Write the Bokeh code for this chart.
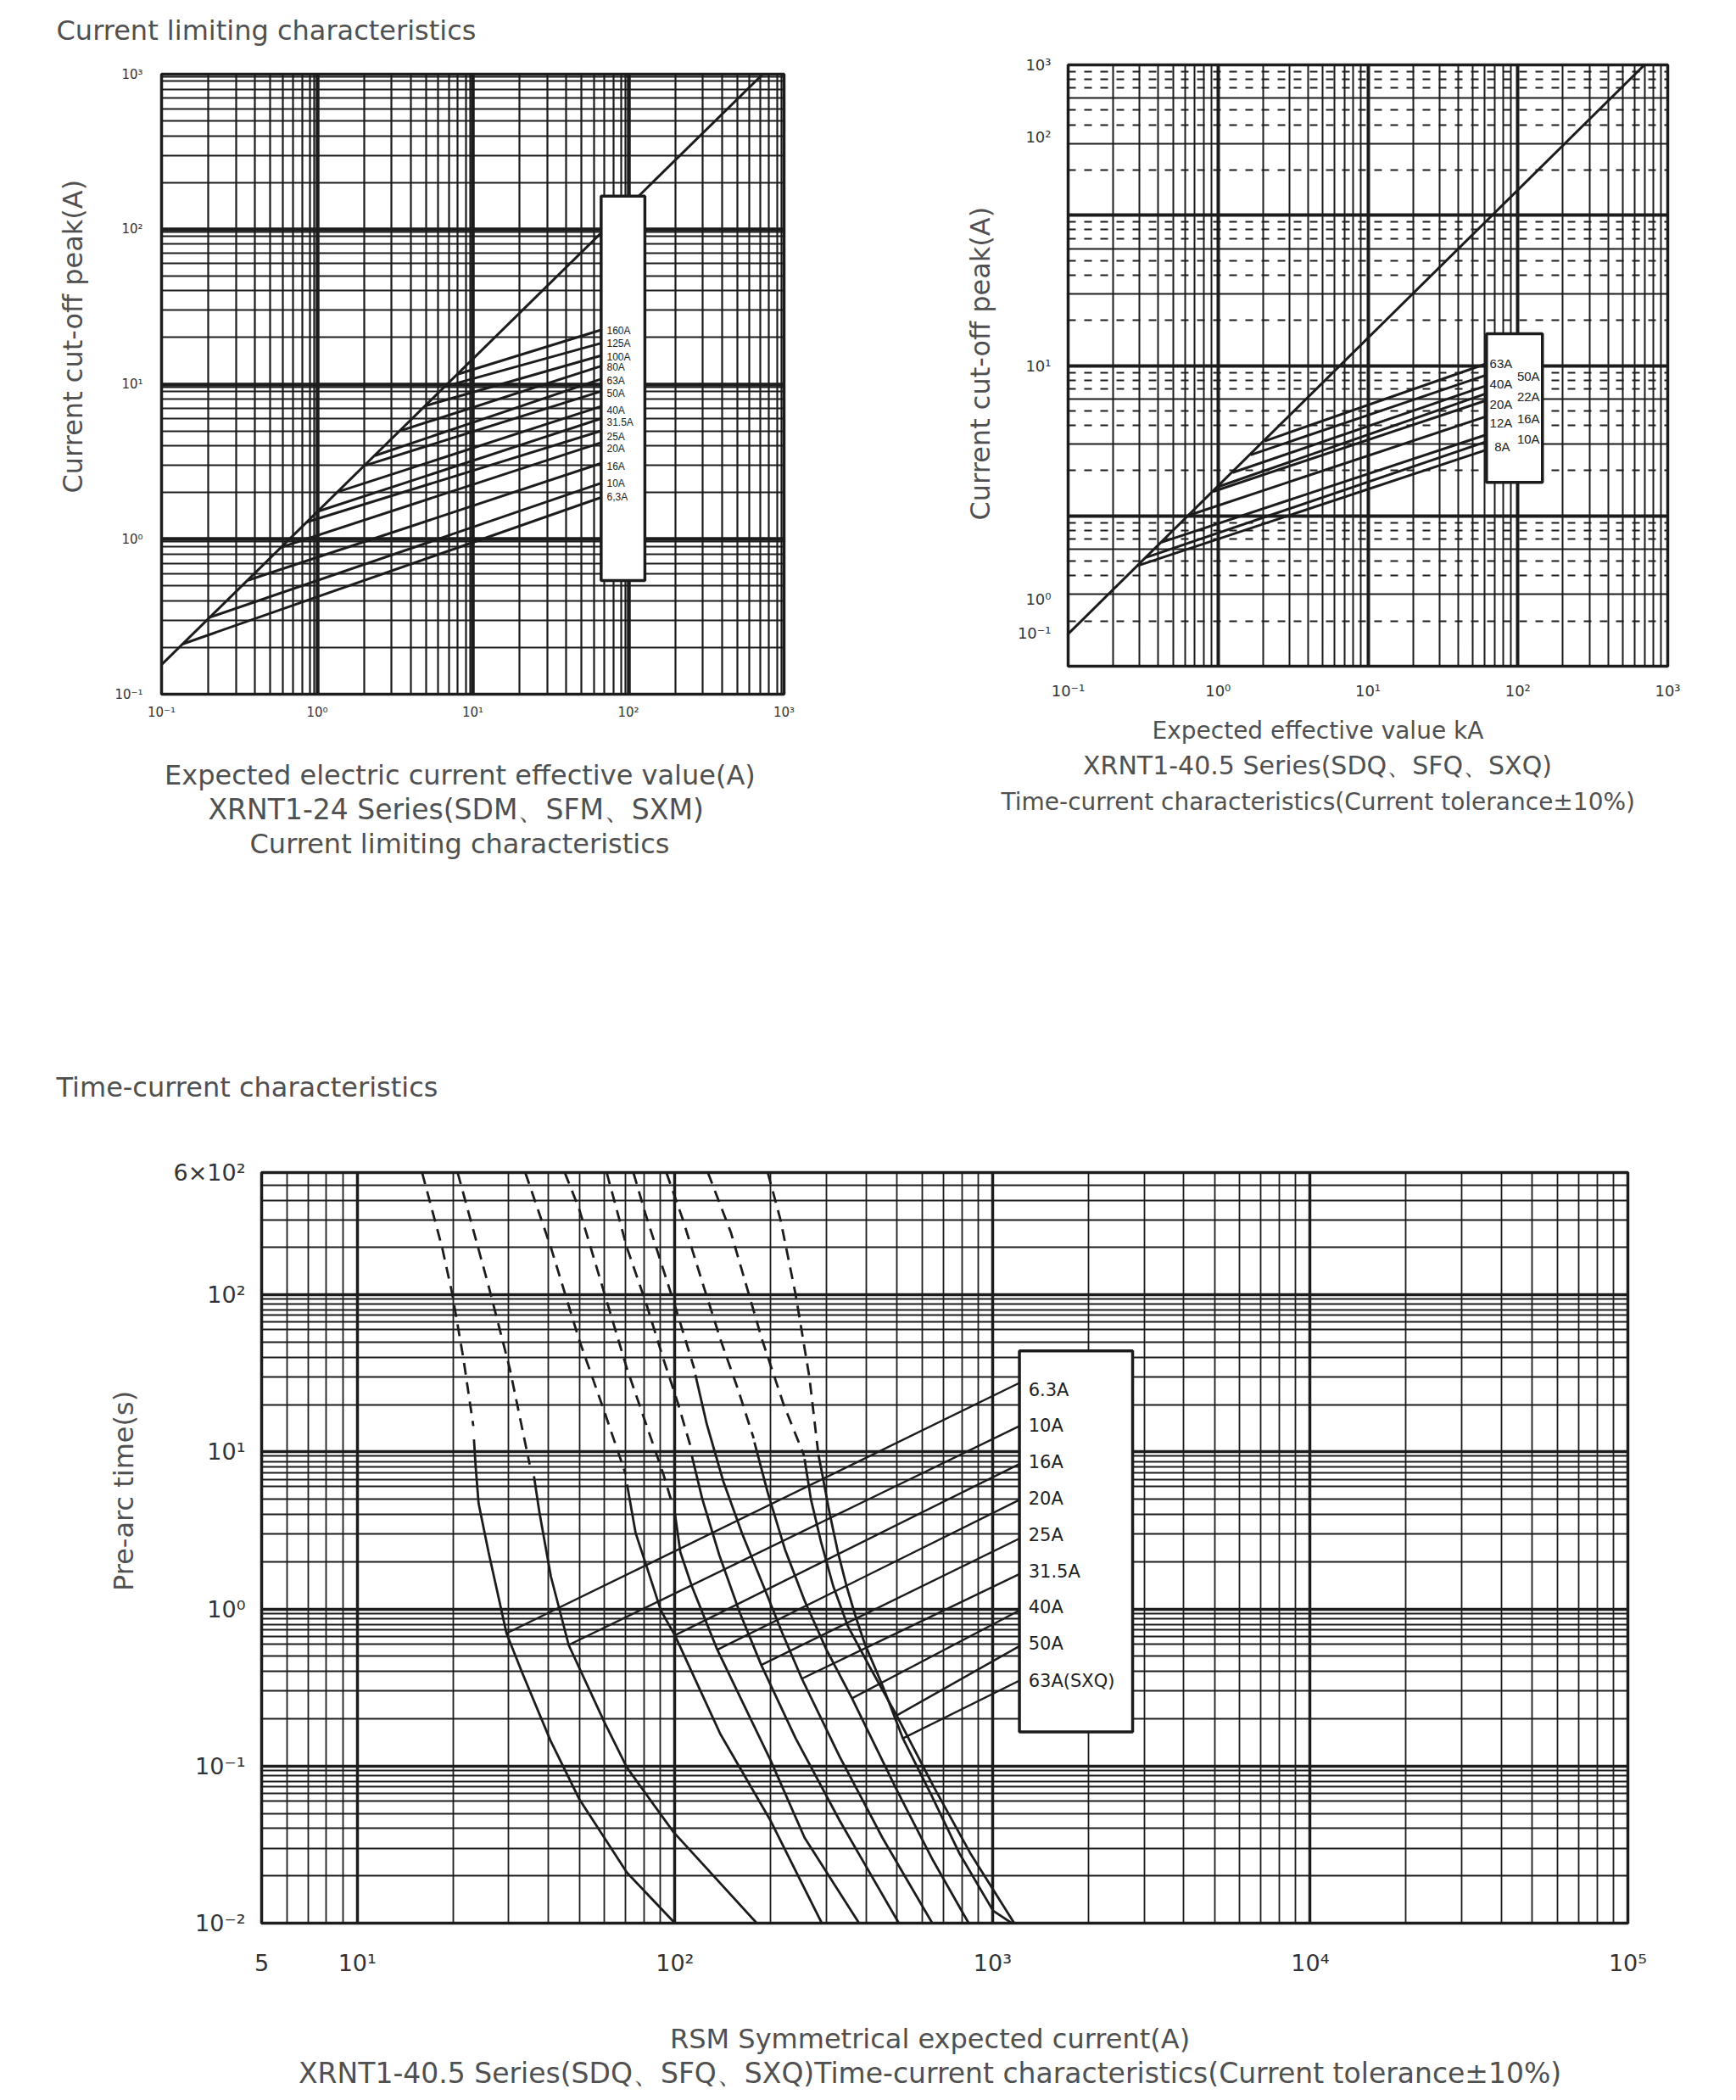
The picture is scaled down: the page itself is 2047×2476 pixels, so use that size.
from bokeh.plotting import figure
from bokeh.models import Range1d, FixedTicker, Grid, Title
from bokeh.layouts import column, row
from bokeh.embed import file_html
from bokeh.resources import INLINE
from bokeh.core.properties import value

INK = "#1c1c1c"
TXT = "#505050"
SANS = "DejaVu Sans"
SMALL = "Liberation Sans"

# ---------------- Chart 1: XRNT1-24 current limiting ----------------
c1_ticks = [0.1, 1, 10, 100, 1000]
c1_tick_labels = ["10⁻¹", "10⁰", "10¹", "10²", "10³"]
c1_decades = [0.1, 1, 10, 100]
c1_minor_mult = [2, 3, 4, 5, 6, 7, 8, 9, 9.6]
c1_diag_x = [0.1, 730]
c1_diag_y = [0.155, 1000]
c1_ratings = ["160A", "125A", "100A", "80A", "63A", "50A", "40A", "31.5A", "25A", "20A", "16A", "10A", "6,3A"]
c1_start_x = [8.0, 6.7, 5.0, 3.43, 2.35, 2.03, 1.36, 1.01, 0.86, 0.59, 0.358, 0.204, 0.137]
c1_start_y = [11.6, 9.7, 7.27, 5.01, 3.46, 2.99, 2.02, 1.51, 1.29, 0.889, 0.543, 0.313, 0.211]
c1_end_x = [66.8] * 13
c1_end_y = [22.4, 18.4, 15.3, 13.1, 10.8, 9.0, 7.2, 6.0, 5.0, 4.2, 3.09, 2.3, 1.86]
c1_label_x = [72.6] * 13
c1_label_y = [22.2, 18.4, 14.9, 12.9, 10.5, 8.73, 6.79, 5.66, 4.59, 3.85, 2.93, 2.28, 1.87]
c1_box = dict(left=[66.8], right=[127.6], bottom=[0.541], top=[163.7])

# ---------------- Chart 2: XRNT1-40.5 current limiting ----------------
c2_xticks = [0.1, 1, 10, 100, 1000]
c2_xtick_labels = ["10⁻¹", "10⁰", "10¹", "10²", "10³"]
c2_yticks = [1000, 330, 10, 0.28, 0.167]
c2_ytick_labels = ["10³", "10²", "10¹", "10⁰", "10⁻¹"]
c2_decades = [0.1, 1, 10, 100]
c2_vminor_mult = [2, 3, 4, 5, 6, 7, 8, 9]
c2_hsolid_mult = [3, 6]
c2_hdash_mult = [2, 4, 5, 7, 8, 9]
c2_diag_x = [0.1, 700]
c2_diag_y = [0.164, 1000]
c2_ratings = ["63A", "50A", "40A", "22A", "20A", "16A", "12A", "10A", "8A"]
c2_start_x = [2.05, 1.65, 1.25, 1.0, 0.93, 0.64, 0.42, 0.33, 0.29]
c2_start_y = [3.145, 2.544, 1.94, 1.56, 1.453, 1.01, 0.668, 0.528, 0.465]
c2_end_x = [61.8] * 9
c2_end_y = [10.3, 8.65, 7.35, 6.52, 5.87, 4.59, 3.47, 3.12, 2.75]
c2_label_x = [64.9, 98.9, 64.9, 98.9, 64.9, 98.9, 64.9, 98.9, 69.8]
c2_label_y = [10.3, 8.51, 7.59, 6.19, 5.53, 4.46, 4.14, 3.27, 2.89]
c2_box = dict(left=[61.8], right=[145.9], bottom=[1.67], top=[16.3])

# ---------------- Chart 3: XRNT1-40.5 time-current ----------------
c3_xticks = [5, 10, 100, 1000, 10000, 100000]
c3_xtick_labels = ["5", "10¹", "10²", "10³", "10⁴", "10⁵"]
c3_yticks = [0.01, 0.1, 1, 10, 100, 600]
c3_ytick_labels = ["10⁻²", "10⁻¹", "10⁰", "10¹", "10²", "6×10²"]
c3_xdecades = [1, 10, 100, 1000, 10000]
c3_ydecades = [0.01, 0.1, 1, 10, 100]
c3_xminor_mult = [2, 3, 4, 5, 6, 7, 8, 9]
c3_yminor_mult = [2, 3, 4, 5, 6, 6.7, 7.4, 8, 8.7, 9.4]
c3_ratings = ["6.3A", "10A", "16A", "20A", "25A", "31.5A", "40A", "50A", "63A(SXQ)"]
# dashed (long pre-arc time) part of each curve
c3_dash_x = [
    [16.0, 18.5, 19.9, 21.6, 23.2],
    [20.7, 25.9, 30.2, 34.9],
    [33.8, 40.7, 49.9, 60, 70],
    [45, 49.9, 60, 70.6, 92, 98],
    [61, 70.6, 81.5, 92, 102, 113],
    [74, 80.7, 90.3, 101, 115],
    [94, 106, 122, 140, 158, 177],
    [127, 150, 188, 220, 255],
    [196, 215, 240, 265, 282],
]
c3_dash_t = [
    [600, 200, 102, 39, 14.6],
    [600, 114, 34, 8.3],
    [600, 200, 52, 18, 7.2],
    [600, 354, 102, 34, 7.2, 4.7],
    [600, 200, 86, 39, 20.7, 10.2],
    [600, 330, 162, 80, 34],
    [600, 300, 120, 50, 25, 12.2],
    [600, 250, 52, 20, 9.5],
    [600, 300, 100, 30, 10.2],
]
# solid (short pre-arc time) part of each curve
c3_solid_x = [
    [23.3, 23.6, 24.1, 25.9, 29.5, 33.1, 40.6, 49.9, 70.6, 100],
    [36.0, 37.5, 40.7, 46.3, 60, 70.6, 99, 181],
    [70.7, 75.2, 81.5, 90.3, 100, 139, 200, 290],
    [100, 104, 113, 136, 200, 256, 380],
    [113, 122, 138, 160, 187, 240, 330, 507],
    [116, 126, 142, 163, 190, 218, 251, 330, 450, 646],
    [178, 196, 222, 256, 300, 361, 500, 650, 841],
    [256, 268, 288, 315, 350, 410, 499, 650, 850, 1170],
    [283, 291, 307, 326, 347, 369, 396, 452, 522, 640, 785, 1004, 1150],
]
c3_solid_t = [
    [12, 8, 4.7, 2.3, 0.7, 0.39, 0.145, 0.062, 0.021, 0.01],
    [7, 4.06, 1.61, 0.59, 0.19, 0.098, 0.038, 0.01],
    [6.2, 3.05, 1.86, 0.98, 0.68, 0.16, 0.045, 0.01],
    [4.06, 2.3, 1.4, 0.55, 0.109, 0.035, 0.01],
    [9.5, 5, 2.2, 0.95, 0.44, 0.15, 0.045, 0.01],
    [31, 15, 6.5, 3.0, 1.4, 0.7, 0.36, 0.115, 0.035, 0.01],
    [11.5, 5.5, 2.4, 1.13, 0.55, 0.27, 0.07, 0.025, 0.01],
    [9.0, 5, 2.7, 1.4, 0.78, 0.43, 0.21, 0.075, 0.028, 0.01],
    [9.6, 7.2, 4.06, 2.3, 1.4, 0.92, 0.6, 0.32, 0.15, 0.066, 0.028, 0.012, 0.01],
]
c3_link_x0 = [29.5, 46.3, 100, 136, 187, 251, 361, 499, 522]
c3_link_t0 = [0.7, 0.59, 0.68, 0.55, 0.44, 0.36, 0.27, 0.21, 0.15]
c3_link_x1 = [1215] * 9
c3_link_t1 = [27.5, 14.6, 8.38, 4.95, 2.81, 1.67, 0.98, 0.58, 0.35]
c3_label_x = [1297] * 9
c3_label_t = [24.8, 14.6, 8.55, 5.02, 2.95, 1.73, 1.02, 0.598, 0.35]
c3_box = dict(left=[1215], right=[2760], bottom=[0.165], top=[44])


# ---------------- layout geometry (page pixels) ----------------
# (fig_left, fig_top, fig_w, fig_h, frame_l, frame_r, frame_t, frame_b)
G1 = (0, 0, 1100, 1208, 190, 924, 87, 818)
G2 = (1100, 0, 939, 1208, 1259, 1966, 76, 785)
G3 = (0, 1208, 2039, 1260, 308, 1919, 1382, 2267)


def make_fig(g, xr, yr):
    fl, ft, w, h, l, r, t, b = g
    p = figure(width=w, height=h, x_axis_type="log", y_axis_type="log",
               x_range=Range1d(*xr), y_range=Range1d(*yr),
               output_backend="svg", toolbar_location=None, title=None,
               min_border_left=l - fl, min_border_right=fl + w - r,
               min_border_top=t - ft, min_border_bottom=ft + h - b)
    if "frame_align" in p.properties():
        p.frame_align = False
    p.xgrid.visible = False
    p.ygrid.visible = False
    p.outline_line_color = INK
    p.outline_line_width = 3.5
    p.outline_line_alpha = 1.0
    return p


def add_grid(p, dim, vals, width, dash="solid"):
    g = Grid(dimension=dim, ticker=FixedTicker(ticks=vals, minor_ticks=[]),
             grid_line_color=INK, grid_line_width=width, grid_line_dash=dash)
    p.add_layout(g)


def style_axes(p, xt, xl, yt, yl, size, xstand, ystand):
    p.xaxis.ticker = FixedTicker(ticks=xt, minor_ticks=[])
    p.yaxis.ticker = FixedTicker(ticks=yt, minor_ticks=[])
    p.xaxis.major_label_overrides = {float(k): v for k, v in zip(xt, xl)}
    p.yaxis.major_label_overrides = {float(k): v for k, v in zip(yt, yl)}
    p.xaxis.major_label_standoff = xstand
    p.yaxis.major_label_standoff = ystand
    for ax in p.xaxis + p.yaxis:
        ax.major_tick_line_color = None
        ax.minor_tick_line_color = None
        ax.axis_line_color = None
        ax.major_label_text_font = SANS
        ax.major_label_text_font_size = size
        ax.major_label_text_color = "#333333"


def add_title(p, text, place, size, offset=0, standoff=0):
    p.add_layout(Title(text=text, align="left", offset=offset, standoff=standoff,
                       text_font=SANS, text_font_size=size, text_font_style="normal",
                       text_color=TXT), place)


def spacer(p, place, gap):
    # blank title used only to push the next caption line outward by `gap` px
    p.add_layout(Title(text=" ", standoff=max(gap - 3.2, 0), text_font=SANS,
                       text_font_size="1px"), place)


# ---------------- build chart 1 ----------------
p1 = make_fig(G1, (0.1, 1000), (0.1, 1000))
minor1 = [d * m for d in c1_decades for m in c1_minor_mult]
heavy1 = c1_decades[1:]
add_grid(p1, 0, minor1, 2.2)
add_grid(p1, 1, minor1, 2.2)
add_grid(p1, 0, heavy1, 4.5)
add_grid(p1, 1, heavy1, 4.5)
style_axes(p1, c1_ticks, c1_tick_labels, c1_ticks, c1_tick_labels, "15px", 6, 16)
p1.line(c1_diag_x, c1_diag_y, line_color=INK, line_width=3)
p1.segment(x0=c1_start_x, y0=c1_start_y, x1=c1_end_x, y1=c1_end_y, line_color=INK, line_width=3)
p1.quad(**c1_box, fill_color="white", line_color=INK, line_width=3.5)
p1.text(x=c1_label_x, y=c1_label_y, text=c1_ratings, text_font=value(SMALL),
        text_font_size=value("12px"), text_baseline="middle", text_align="left",
        text_color="#222222")
spacer(p1, "above", 33.4)
add_title(p1, "Current limiting characteristics", "above", "32px", offset=-124)
add_title(p1, "Current cut-off peak(A)", "left", "32px", offset=237, standoff=55.6)
spacer(p1, "below", 40.9)
add_title(p1, "Expected electric current effective value(A)", "below", "32px", offset=3.5)
add_title(p1, "XRNT1-24 Series(SDM、SFM、SXM)", "below", "33px", offset=55)
add_title(p1, "Current limiting characteristics", "below", "32px", offset=104)

# ---------------- build chart 2 ----------------
p2 = make_fig(G2, (0.1, 1000), (0.1, 1000))
vminor2 = [d * m for d in c2_decades for m in c2_vminor_mult]
hsolid2 = [d * m for d in c2_decades for m in c2_hsolid_mult]
hdash2 = [d * m for d in c2_decades for m in c2_hdash_mult]
heavy2 = c2_decades[1:]
add_grid(p2, 0, vminor2, 2.0)
add_grid(p2, 1, hsolid2, 2.0)
add_grid(p2, 1, hdash2, 2.2, dash="9 10")
add_grid(p2, 0, heavy2, 4.0)
add_grid(p2, 1, heavy2, 4.0)
style_axes(p2, c2_xticks, c2_xtick_labels, c2_yticks, c2_ytick_labels, "18px", 12, 14)
p2.line(c2_diag_x, c2_diag_y, line_color=INK, line_width=3)
p2.segment(x0=c2_start_x, y0=c2_start_y, x1=c2_end_x, y1=c2_end_y, line_color=INK, line_width=3)
p2.quad(**c2_box, fill_color="white", line_color=INK, line_width=3.5)
p2.text(x=c2_label_x, y=c2_label_y, text=c2_ratings, text_font=value(SMALL),
        text_font_size=value("15px"), text_baseline="middle", text_align="left",
        text_color="#222222")
add_title(p2, "Current cut-off peak(A)", "left", "32px", offset=172, standoff=44)
spacer(p2, "below", 14.7)
add_title(p2, "Expected effective value kA", "below", "28px", offset=99)
spacer(p2, "below", 5.2)
add_title(p2, "XRNT1-40.5 Series(SDQ、SFQ、SXQ)", "below", "30px", offset=17.5)
spacer(p2, "below", 7.3)
add_title(p2, "Time-current characteristics(Current tolerance±10%)", "below", "28px", offset=-79)

# ---------------- build chart 3 ----------------
p3 = make_fig(G3, (5, 100000), (0.01, 600))
xminor3 = [d * m for d in c3_xdecades for m in c3_xminor_mult if 5 < d * m < 100000]
yminor3 = [d * m for d in c3_ydecades for m in c3_yminor_mult if d * m < 600]
add_grid(p3, 0, xminor3, 1.8)
add_grid(p3, 1, yminor3, 1.8)
add_grid(p3, 0, c3_xdecades[1:], 3.5)
add_grid(p3, 1, c3_ydecades[1:], 3.5)
style_axes(p3, c3_xticks, c3_xtick_labels, c3_yticks, c3_ytick_labels, "27px", 25, 13)
for dx, dt in zip(c3_dash_x, c3_dash_t):
    p3.line(dx, dt, line_color=INK, line_width=2.8, line_dash="14 9")
for sx, st in zip(c3_solid_x, c3_solid_t):
    p3.line(sx, st, line_color=INK, line_width=2.8)
p3.segment(x0=c3_link_x0, y0=c3_link_t0, x1=c3_link_x1, y1=c3_link_t1, line_color=INK, line_width=2.4)
p3.quad(**c3_box, fill_color="white", line_color=INK, line_width=3.5)
p3.text(x=c3_label_x, y=c3_label_t, text=c3_ratings, text_font=value(SANS),
        text_font_size=value("21px"), text_baseline="middle", text_align="left",
        text_color="#222222")
spacer(p3, "above", 82.4)
add_title(p3, "Time-current characteristics", "above", "32px", offset=-242)
add_title(p3, "Pre-arc time(s)", "left", "32px", offset=391.5, standoff=72.8)
spacer(p3, "below", 50)
add_title(p3, "RSM Symmetrical expected current(A)", "below", "32px", offset=481.5)
add_title(p3, "XRNT1-40.5 Series(SDQ、SFQ、SXQ)Time-current characteristics(Current tolerance±10%)",
          "below", "33px", offset=43.5)

layout = column(row(p1, p2), p3)
open("out.html", "w").write(file_html(layout, INLINE, title="Fuse characteristics"))
